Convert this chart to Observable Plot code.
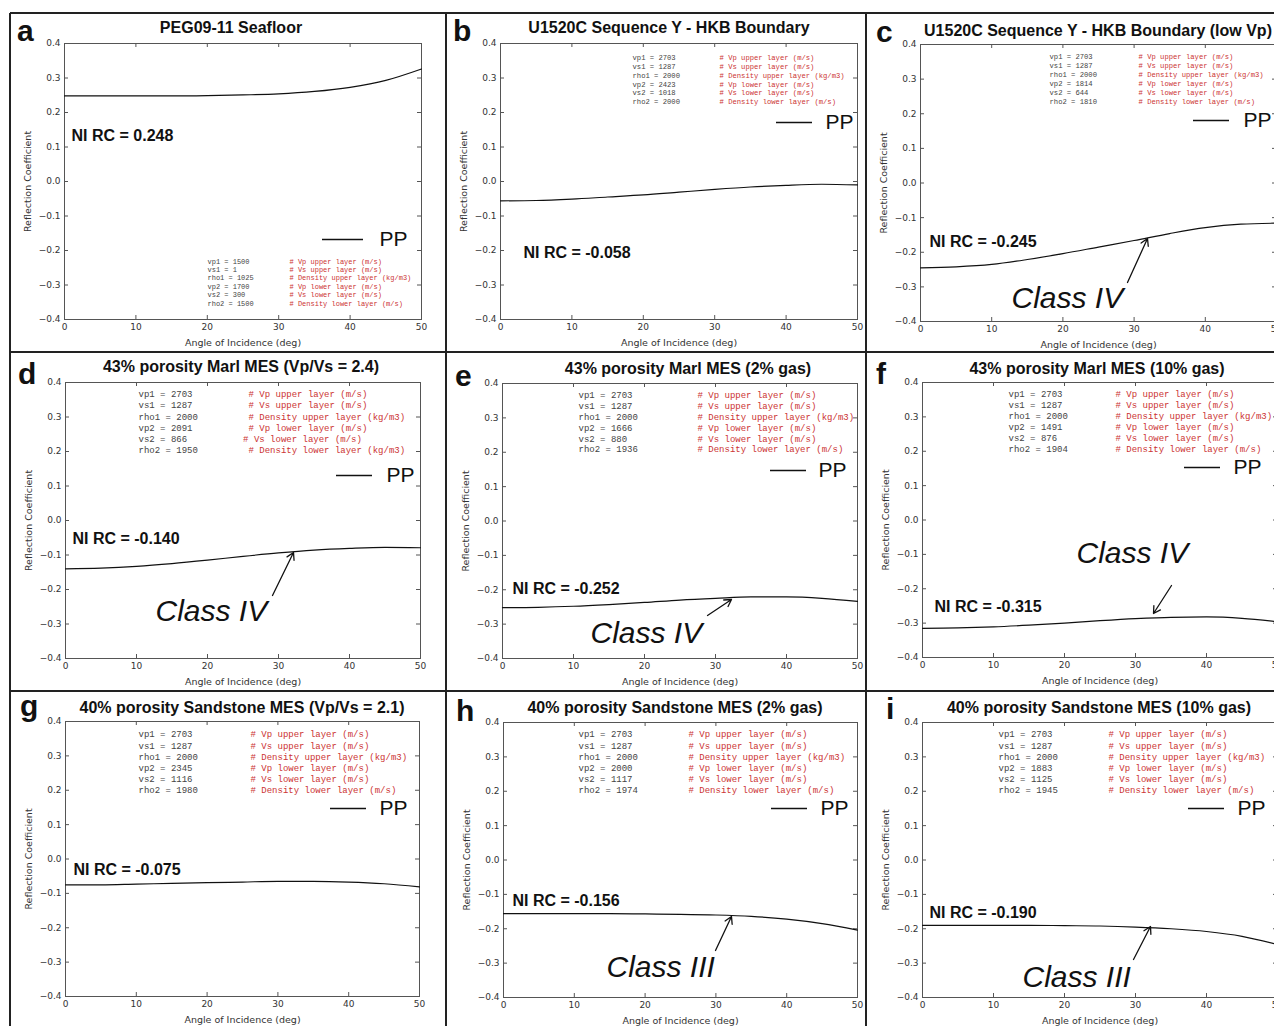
<!DOCTYPE html>
<html><head><meta charset="utf-8">
<script src="https://cdn.jsdelivr.net/npm/d3@7"></script>
<script src="https://cdn.jsdelivr.net/npm/@observablehq/plot@0.6"></script>
<style>
body{margin:0;background:#fff;}
#fig{position:relative;width:1274px;height:1026px;overflow:hidden;background:#fff;}
.panel{position:absolute;}
#overlay{position:absolute;left:0;top:0;pointer-events:none;}
</style></head><body><div id="fig"></div>
<script>
// ---------- data ----------
const angles = [0, 5, 10, 15, 20, 25, 30, 35, 40, 45, 50];
const rcA = [0.248, 0.248, 0.248, 0.248, 0.249, 0.251, 0.254, 0.261, 0.273, 0.293, 0.326];
const rcB = [-0.056, -0.055, -0.051, -0.045, -0.039, -0.031, -0.023, -0.016, -0.011, -0.008, -0.010];
const rcC = [-0.245, -0.242, -0.235, -0.221, -0.204, -0.185, -0.166, -0.146, -0.129, -0.119, -0.116];
const rcD = [-0.140, -0.138, -0.133, -0.125, -0.115, -0.104, -0.094, -0.086, -0.081, -0.078, -0.079];
const rcE = [-0.252, -0.251, -0.248, -0.243, -0.237, -0.230, -0.225, -0.221, -0.221, -0.225, -0.234];
const rcF = [-0.315, -0.314, -0.311, -0.306, -0.300, -0.293, -0.287, -0.283, -0.282, -0.286, -0.296];
const rcG = [-0.075, -0.075, -0.073, -0.071, -0.069, -0.067, -0.065, -0.065, -0.067, -0.072, -0.081];
const rcH = [-0.156, -0.156, -0.156, -0.156, -0.157, -0.158, -0.160, -0.164, -0.172, -0.185, -0.204];
const rcI = [-0.190, -0.190, -0.190, -0.190, -0.191, -0.192, -0.195, -0.200, -0.208, -0.222, -0.246];

const letters = ["a", "b", "c", "d", "e", "f", "g", "h", "i"];
const titles = [
  "PEG09-11 Seafloor",
  "U1520C Sequence Y - HKB Boundary",
  "U1520C Sequence Y - HKB Boundary (low Vp)",
  "43% porosity Marl MES (Vp/Vs = 2.4)",
  "43% porosity Marl MES (2% gas)",
  "43% porosity Marl MES (10% gas)",
  "40% porosity Sandstone MES (Vp/Vs = 2.1)",
  "40% porosity Sandstone MES (2% gas)",
  "40% porosity Sandstone MES (10% gas)"
];
const niRC = ["0.248", "-0.058", "-0.245", "-0.140", "-0.252", "-0.315", "-0.075", "-0.156", "-0.190"];
const classLabels = [null, null, "Class IV", "Class IV", "Class IV", "Class IV", null, "Class III", "Class III"];

const paramNames = ["vp1", "vs1", "rho1", "vp2", "vs2", "rho2"];
const paramNotes = ["# Vp upper layer (m/s)", "# Vs upper layer (m/s)", "# Density upper layer (kg/m3)",
                    "# Vp lower layer (m/s)", "# Vs lower layer (m/s)", "# Density lower layer (m/s)"];
const paramA = [1500, 1, 1025, 1700, 300, 1500];
const paramB = [2703, 1287, 2000, 2423, 1018, 2000];
const paramC = [2703, 1287, 2000, 1814, 644, 1810];
const paramD = [2703, 1287, 2000, 2091, 866, 1950];
const paramE = [2703, 1287, 2000, 1666, 880, 1936];
const paramF = [2703, 1287, 2000, 1491, 876, 1904];
const paramG = [2703, 1287, 2000, 2345, 1116, 1980];
const paramH = [2703, 1287, 2000, 2000, 1117, 1974];
const paramI = [2703, 1287, 2000, 1883, 1125, 1945];

const xTicks = [0, 10, 20, 30, 40, 50];
const yTicks = [-0.4, -0.3, -0.2, -0.1, 0.0, 0.1, 0.2, 0.3, 0.4];

// ---------- layout (page pixels) ----------
const layout = [
  {frame:[64,421,43,319], title:[231,33], letter:[17,41], ni:[71,135], pp:[322,363,239,379], prm:[207,289,261,8.35,7], cls:null, arrow:null},
  {frame:[500,857,43,319], title:[669,33], letter:[453,41], ni:[523,252], pp:[776,812,122,825], prm:[632,719,57,8.9,7.2], cls:null, arrow:null},
  {frame:[920,1276,44,321], title:[1098,36], letter:[876,42], ni:[929,241], pp:[1193,1229,120,1243], prm:[1049,1138,56,9.1,7.2], cls:[1011,298], arrow:[1127,282,1147,238]},
  {frame:[65,420,382,658], title:[241,372], letter:[18,384], ni:[72,538], pp:[336,372,475,386], prm:[138,248,394,11.1,9], cls:[155,611], arrow:[272,595,293,552]},
  {frame:[502,857,383,658], title:[688,374], letter:[455,386], ni:[512,588], pp:[770,806,470,818], prm:[578,697,395,10.8,9], cls:[590,633], arrow:[707,615,731,599]},
  {frame:[922,1277,382,657], title:[1097,374], letter:[876,384], ni:[934,606], pp:[1184,1220,467,1233], prm:[1008,1115,394,10.9,9], cls:[1076,553], arrow:[1171,585,1153,613]},
  {frame:[65,419,721,996], title:[242,713], letter:[20,716], ni:[73,869], pp:[330,366,808,379], prm:[138,250,734,11.2,9], cls:null, arrow:null},
  {frame:[503,857,722,997], title:[675,713], letter:[456,721], ni:[512,900], pp:[771,807,808,820], prm:[578,688,734,11.2,9], cls:[606,967], arrow:[715,950,731,916]},
  {frame:[922,1277,722,997], title:[1099,713], letter:[886,719], ni:[929,912], pp:[1188,1224,808,1237], prm:[998,1108,734,11.2,9], cls:[1022,977], arrow:[1133,959,1150,926]}
];

const curves = [rcA, rcB, rcC, rcD, rcE, rcF, rcG, rcH, rcI];
const params = [paramA, paramB, paramC, paramD, paramE, paramF, paramG, paramH, paramI];

const fig = document.getElementById("fig");
const sans = "'Liberation Sans', Arial, Helvetica, sans-serif";
const mono = "'Liberation Mono', 'Courier New', monospace";
const axisGray = "#555";

function makePanel(k) {
  const L = layout[k];
  const [x0, x1, y0, y1] = L.frame;
  const fw = x1 - x0, fh = y1 - y0;
  const mL = 50, mR = 14, mT = 10, mB = 34;
  const fx = px => (px - x0) / fw * 50;
  const fy = py => 0.4 - (py - y0) / fh * 0.8;
  const tx = 4 / fw * 50, ty = 4 / fh * 0.8;
  const data = angles.map((a, i) => ({angle: a, rc: curves[k][i]}));
  const inner = [10, 20, 30, 40];
  const innerY = [-0.3, -0.2, -0.1, 0, 0.1, 0.2, 0.3];

  const [pl, pr, py0, pdy, pfs] = L.prm;
  const pv = params[k];
  const nameRows = paramNames.map((n, i) => ({t: `${n} = ${pv[i]}`, x: fx(pl), y: fy(py0 + i * pdy)}));
  const noteRows = paramNotes.map((n, i) => {
    let t = n;
    if (k === 3 && i === 5) t = "# Density lower layer (kg/m3)";
    let shift = (k === 3 && i === 4) ? -pfs * 0.6 : 0;
    return {t, x: fx(pr + shift), y: fy(py0 + i * pdy)};
  });

  const marks = [
    Plot.frame({stroke: axisGray, strokeWidth: 1}),
    Plot.ruleX(inner, {x: d => d, y1: -0.4, y2: -0.4 + ty, stroke: axisGray}),
    Plot.ruleX(inner, {x: d => d, y1: 0.4, y2: 0.4 - ty, stroke: axisGray}),
    Plot.ruleY(innerY, {y: d => d, x1: 0, x2: tx, stroke: axisGray}),
    Plot.ruleY(innerY, {y: d => d, x1: 50, x2: 50 - tx, stroke: axisGray}),
    Plot.axisX(xTicks, {tickSize: 0, tickPadding: 4, tickFormat: d3.format("d"), fontSize: 9, label: null}),
    Plot.axisY(yTicks, {tickSize: 0, tickPadding: 4, tickFormat: d3.format(".1f"), fontSize: 9, label: null}),
    Plot.text(["Angle of Incidence (deg)"], {text: d => d, frameAnchor: "bottom", lineAnchor: "middle", textAnchor: "middle",
      dy: 23, fontSize: 9.5, fill: "#333"}),
    Plot.text(["Reflection Coefficient"], {text: d => d, frameAnchor: "left", textAnchor: "middle", lineAnchor: "middle",
      rotate: -90, dx: -37, fontSize: 9.5, fill: "#333"}),
    Plot.line(data, {x: "angle", y: "rc", curve: "monotone-x", stroke: "#111", strokeWidth: 1.2}),
    Plot.text([`NI RC = ${niRC[k]}`], {text: d => d, x: fx(L.ni[0]), y: fy(L.ni[1]), textAnchor: "start",
      fontFamily: sans, fontWeight: "bold", fontSize: 16, fill: "#111"}),
    Plot.ruleY([fy(L.pp[2])], {y: d => d, x1: fx(L.pp[0]), x2: fx(L.pp[1]), stroke: "#111", strokeWidth: 1.4}),
    Plot.text(["PP"], {text: d => d, x: fx(L.pp[3]), y: fy(L.pp[2]), textAnchor: "start",
      fontFamily: sans, fontSize: 21, fill: "#111"}),
    Plot.text(nameRows, {x: "x", y: "y", text: "t", textAnchor: "start", fontFamily: mono, fontSize: pfs, fill: "#444"}),
    Plot.text(noteRows, {x: "x", y: "y", text: "t", textAnchor: "start", fontFamily: mono, fontSize: pfs, fill: "#cc3333"})
  ];
  if (L.cls) {
    marks.push(Plot.text([classLabels[k]], {text: d => d, x: fx(L.cls[0]), y: fy(L.cls[1]), textAnchor: "start",
      fontFamily: sans, fontStyle: "italic", fontSize: 30, fill: "#111"}));
  }
  if (L.arrow) {
    const [ax1, ay1, ax2, ay2] = L.arrow;
    marks.push(Plot.arrow([0], {x1: fx(ax1), y1: fy(ay1), x2: fx(ax2), y2: fy(ay2),
      stroke: "#111", strokeWidth: 1.3, headLength: 9}));
  }

  const chart = Plot.plot({
    width: fw + mL + mR, height: fh + mT + mB,
    marginLeft: mL, marginRight: mR, marginTop: mT, marginBottom: mB,
    x: {domain: [0, 50]}, y: {domain: [-0.4, 0.4]},
    style: {background: "transparent", overflow: "visible", fontFamily: "'DejaVu Sans', sans-serif",
            color: "#333", maxWidth: "none"},
    marks
  });
  const div = document.createElement("div");
  div.className = "panel";
  div.style.left = (x0 - mL) + "px";
  div.style.top = (y0 - mT) + "px";
  div.appendChild(chart);
  fig.appendChild(div);
}

for (let k = 0; k < 9; k++) makePanel(k);

// ---------- overlay: panel borders, titles, letters ----------
const NS = "http://www.w3.org/2000/svg";
const ov = document.createElementNS(NS, "svg");
ov.setAttribute("id", "overlay");
ov.setAttribute("width", 1274);
ov.setAttribute("height", 1026);
function el(tag, attrs, txt) {
  const e = document.createElementNS(NS, tag);
  for (const a in attrs) e.setAttribute(a, attrs[a]);
  if (txt != null) e.textContent = txt;
  ov.appendChild(e);
  return e;
}
const borders = [[10, 13, 1274, 13], [10, 13, 10, 1026], [446, 13, 446, 1026], [866, 13, 866, 1026], [10, 352, 1274, 352], [10, 691, 1274, 691]];
for (const [a, b, c, d] of borders) el("line", {x1: a, y1: b, x2: c, y2: d, stroke: "#222", "stroke-width": 2});
for (let k = 0; k < 9; k++) {
  const L = layout[k];
  el("text", {x: L.title[0], y: L.title[1], "text-anchor": "middle", "font-family": sans, "font-weight": "bold",
    "font-size": 16, fill: "#111"}, titles[k]);
  el("text", {x: L.letter[0], y: L.letter[1], "font-family": sans, "font-weight": "bold", "font-size": 30, fill: "#111"}, letters[k]);
}
fig.appendChild(ov);
</script>
</body></html>
